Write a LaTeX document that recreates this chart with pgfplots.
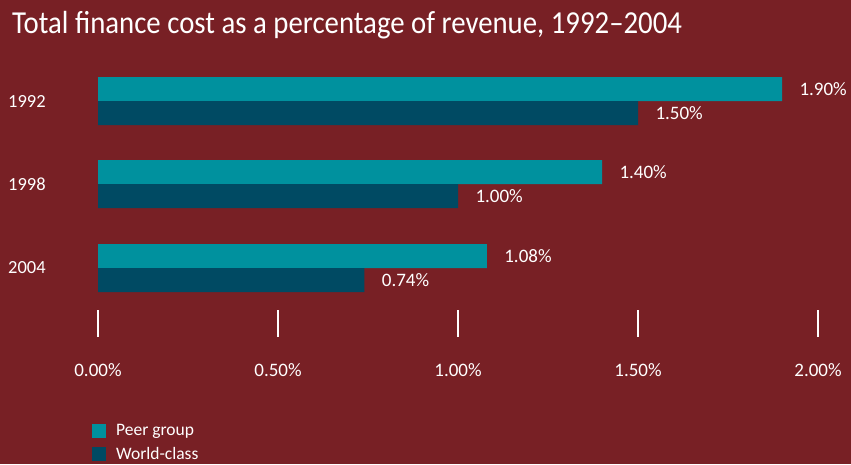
\documentclass[border=0pt]{standalone}
\usepackage{fontspec}
\setmainfont{Carlito}
\newfontfamily\titlefont[FakeStretch=0.9]{Carlito}
\usepackage{pgfplots}
\pgfplotsset{compat=1.18}
\definecolor{bg}{RGB}{120,32,37}
\definecolor{peer}{RGB}{0,145,158}
\definecolor{world}{RGB}{0,74,99}
\begin{document}
\begin{tikzpicture}
\fill[bg] (0,0) rectangle (851pt,464pt);
\begin{axis}[
  at={(0,0)}, anchor=south west,
  scale only axis, width=851pt, height=464pt,
  xmin=-0.272222, xmax=2.091667, ymin=0, ymax=464, y dir=reverse,
  hide axis, clip=false,
  xbar, bar width=24pt,
  /pgf/number format/assume math mode=true,
  nodes near coords={\pgfmathprintnumber[fixed,fixed zerofill,precision=2]{\pgfplotspointmeta}\%},
  point meta=x,
  nodes near coords style={anchor=west, xshift=14pt, text=white, font=\fontsize{19}{19}\selectfont},
  legend style={at={(0.1081,0.0905)}, anchor=north west, draw=none, fill=none,
    text=white, font=\fontsize{17.5}{18}\selectfont, inner sep=0pt, row sep=6pt,
    cells={anchor=west}},
]
\addplot[fill=peer, draw=none, bar shift=0pt,
  legend image code/.code={\fill[peer] (0pt,-7pt) rectangle (14pt,7pt); \path (22pt,0pt);}]
  coordinates {(1.90,89) (1.40,172) (1.08,256)};
\addlegendentry{Peer group}
\addplot[fill=world, draw=none, bar shift=0pt,
  legend image code/.code={\fill[world] (0pt,-7pt) rectangle (14pt,7pt); \path (22pt,0pt);}]
  coordinates {(1.50,113) (1.00,196) (0.74,280)};
\addlegendentry{World-class}
\pgfplotsinvokeforeach{0,0.5,1,1.5,2}{\draw[white, line width=1.4pt] (axis cs:#1,310) -- (axis cs:#1,337);}
\node[text=white, font=\fontsize{19}{19}\selectfont] at (axis cs:0,370) {0.00\%};
\node[text=white, font=\fontsize{19}{19}\selectfont] at (axis cs:0.5,370) {0.50\%};
\node[text=white, font=\fontsize{19}{19}\selectfont] at (axis cs:1,370) {1.00\%};
\node[text=white, font=\fontsize{19}{19}\selectfont] at (axis cs:1.5,370) {1.50\%};
\node[text=white, font=\fontsize{19}{19}\selectfont] at (axis cs:2,370) {2.00\%};
\node[text=white, anchor=west, inner sep=0pt, font=\fontsize{18.5}{19}\selectfont] at (axis cs:-0.25,101) {1992};
\node[text=white, anchor=west, inner sep=0pt, font=\fontsize{18.5}{19}\selectfont] at (axis cs:-0.25,184) {1998};
\node[text=white, anchor=west, inner sep=0pt, font=\fontsize{18.5}{19}\selectfont] at (axis cs:-0.25,268) {2004};
\node[text=white, anchor=base west, inner sep=0pt, font=\titlefont\fontsize{32}{34}\selectfont] at (axis cs:-0.238889,33) {Total finance cost as a percentage of revenue, 1992–2004};
\end{axis}
\end{tikzpicture}
\end{document}
